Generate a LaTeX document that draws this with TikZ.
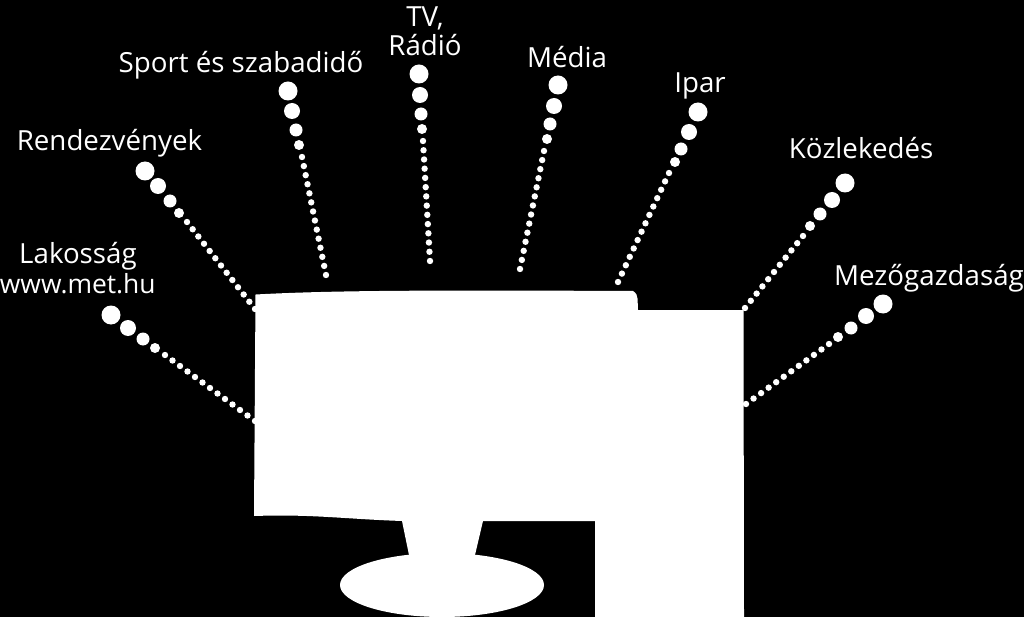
\documentclass[tikz,border=0pt]{standalone}
\usepackage{fontspec}
\setmainfont{Open Sans}
\usetikzlibrary{calc}
\tikzset{
    felirat/.style={white, anchor=base, align=center, inner sep=0pt, font=\fontsize{27.7}{29.5}\selectfont},
    pont/.style={fill=white, draw=none}
}
\begin{document}
\begin{tikzpicture}[x=1pt, y=-1pt]
        % Background
        \fill[black] (0,0) rectangle (1024,617);
        \useasboundingbox (0,0) rectangle (1024,617);

        % Monitor
        \fill[white] (255.5,294.5) .. controls (330,290.5) and (420,290) .. (633,291)
            to[out=-30, in=97] (638,310) -- (743.5,310) -- (744,617) -- (595,617) -- (595,521)
            -- (483,521) -- (475,555) -- (409,555) -- (402,521) to[out=178, in=2] (254,516) -- cycle;
        % Stand
        \fill[white] (442,585) ellipse (102 and 32);

        % Dots: big end, 2nd, 3rd, 4th, first small, last small, number of gaps
        \foreach \ax/\ay/\bx/\by/\cx/\cy/\dx/\dy/\ex/\ey/\fx/\fy/\n in {
            111/315/128/328/143/339/155/348/165/355/255/421/12,
            145/171/158/186/170/201/179/213/187/222/255/309/12,
            288/91/292/111/296/130/299/145/302/157/326/275/13,
            419/74/420/95/421/114/422/129/423/141/430/261/13,
            558/85/554/106/550/124/547/139/544/151/520/269/13,
            698/112/689/132/681/149/675/162/669/173/618/282/13,
            845/183/832/200/820/214/810/226/803/236/745/308/10,
            883/304/866/316/851/328/838/337/829/344/746/404/11}{
            \fill[pont] (\ax,\ay) circle (9.5);
            \fill[pont] (\bx,\by) circle (8);
            \fill[pont] (\cx,\cy) circle (6.5);
            \fill[pont] (\dx,\dy) circle (5);
            \foreach \i in {0,...,\n}
                \fill[pont] ($(\ex,\ey)!\i/\n!(\fx,\fy)$) circle (3.2);
        }

        % Labels
        \node[felirat] (lakossag) at (78,264) {Lakosság};
        \node[felirat, font=\fontsize{26.4}{29.5}\selectfont] (web) at (77.8,294) {www.met.hu};
        \node[felirat] (rendezveny) at (109.5,150.5) {Rendezvények};
        \node[felirat] (sport) at (241,73) {Sport és szabadidő};
        \node[felirat] (tv) at (425,56) {TV,\\Rádió};
        \node[felirat] (media) at (567,67.5) {Média};
        \node[felirat] (ipar) at (700,92.5) {Ipar};
        \node[felirat] (kozlekedes) at (861,158.5) {Közlekedés};
        \node[felirat] (mezogazdasag) at (929,286) {Mezőgazdaság};
    \end{tikzpicture}
\end{document}
